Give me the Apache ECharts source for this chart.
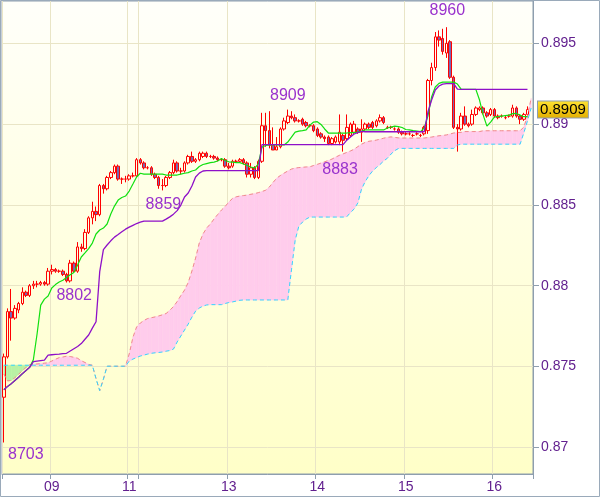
<!DOCTYPE html>
<html><head><meta charset="utf-8">
<script src="https://cdn.jsdelivr.net/npm/echarts@6/dist/echarts.min.js"></script>
<style>html,body{margin:0;padding:0;background:#fff}#c{width:600px;height:497px}</style>
</head><body><div id="c"></div>
<script>
// ---- categories (hourly candles) ----
const days = ['08','09','11','12','13','14','15','16'];
const dayHours = [13,21,3,24,24,24,24,11];
const dayFirstHour = [11,0,21,0,0,0,0,0];
const hiddenDayLabels = ['08','12'];
const yTicks = [0.87,0.875,0.88,0.885,0.89,0.895];

// ---- candles ----
const open = [
0.8731,0.8756,0.8784,0.8780,0.8785,0.8789,0.8796,0.8794,0.8800,0.8801,
0.8801,0.8802,0.8801,0.8809,0.8810,0.8809,0.8809,0.8807,0.8803,0.8814,
0.8809,0.8824,0.8823,0.8833,0.8842,0.8846,0.8844,0.8862,0.8860,0.8867,
0.8870,0.8874,0.8866,0.8866,0.8866,0.8868,0.8868,0.8878,0.8876,0.8873,
0.8873,0.8869,0.8867,0.8862,0.8862,0.8867,0.8870,0.8876,0.8871,0.8871,
0.8876,0.8880,0.8877,0.8878,0.8880,0.8882,0.8880,0.8880,0.8879,0.8878,
0.8878,0.8874,0.8874,0.8877,0.8877,0.8878,0.8876,0.8869,0.8873,0.8867,
0.8877,0.8899,0.8896,0.8887,0.8884,0.8886,0.8897,0.8901,0.8905,0.8904,
0.8902,0.8903,0.8901,0.8899,0.8899,0.8897,0.8894,0.8892,0.8892,0.8888,
0.8889,0.8889,0.8893,0.8891,0.8893,0.8895,0.8897,0.8895,0.8897,0.8900,
0.8901,0.8899,0.8902,0.8904,0.8898,0.8898,0.8897,0.8897,0.8895,0.8894,
0.8894,0.8893,0.8894,0.8893,0.8894,0.8896,0.8927,0.8935,0.8954,0.8953,
0.8944,0.8951,0.8929,0.8898,0.8897,0.8905,0.8900,0.8900,0.8906,0.8909,
0.8910,0.8907,0.8906,0.8909,0.8905,0.8905,0.8904,0.8905,0.8905,0.8910,
0.8905,0.8903,0.8906];
const close = [
0.8756,0.8784,0.8780,0.8786,0.8789,0.8796,0.8794,0.8800,0.8801,0.8801,
0.8802,0.8801,0.8809,0.8810,0.8809,0.8809,0.8807,0.8803,0.8814,0.8809,
0.8824,0.8823,0.8833,0.8842,0.8846,0.8844,0.8862,0.8860,0.8867,0.8870,
0.8874,0.8866,0.8866,0.8866,0.8868,0.8868,0.8878,0.8876,0.8873,0.8873,
0.8869,0.8867,0.8862,0.8862,0.8867,0.8870,0.8876,0.8871,0.8871,0.8876,
0.8880,0.8877,0.8878,0.8882,0.8882,0.8880,0.8880,0.8879,0.8878,0.8878,
0.8874,0.8873,0.8877,0.8877,0.8878,0.8876,0.8869,0.8873,0.8867,0.8877,
0.8899,0.8896,0.8887,0.8884,0.8886,0.8897,0.8902,0.8905,0.8904,0.8902,
0.8902,0.8900,0.8899,0.8899,0.8896,0.8893,0.8892,0.8891,0.8888,0.8891,
0.8892,0.8895,0.8890,0.8898,0.8900,0.8900,0.8895,0.8897,0.8900,0.8898,
0.8898,0.8902,0.8904,0.8901,0.8898,0.8898,0.8897,0.8895,0.8894,0.8894,
0.8894,0.8893,0.8894,0.8893,0.8898,0.8927,0.8935,0.8954,0.8952,0.8945,
0.8950,0.8929,0.8898,0.8897,0.8905,0.8900,0.8899,0.8906,0.8910,0.8910,
0.8907,0.8905,0.8909,0.8905,0.8904,0.8905,0.8904,0.8905,0.8910,0.8905,
0.8903,0.8906,0.8909];
const low = [
0.8703,0.8755,0.8766,0.8779,0.8783,0.8788,0.8793,0.8793,0.8798,0.8799,
0.8800,0.8800,0.8800,0.8807,0.8808,0.8808,0.8806,0.8802,0.8802,0.8808,
0.8808,0.8821,0.8822,0.8832,0.8838,0.8840,0.8843,0.8857,0.8859,0.8866,
0.8869,0.8865,0.8863,0.8864,0.8865,0.8867,0.8867,0.8875,0.8872,0.8872,
0.8868,0.8866,0.8860,0.8859,0.8861,0.8866,0.8869,0.8870,0.8869,0.8870,
0.8875,0.8876,0.8876,0.8877,0.8879,0.8879,0.8879,0.8878,0.8877,0.8877,
0.8873,0.8872,0.8873,0.8876,0.8876,0.8875,0.8867,0.8867,0.8866,0.8866,
0.8876,0.8886,0.8885,0.8884,0.8884,0.8885,0.8896,0.8900,0.8903,0.8901,
0.8901,0.8899,0.8898,0.8898,0.8895,0.8892,0.8891,0.8889,0.8887,0.8887,
0.8888,0.8887,0.8883,0.8890,0.8892,0.8894,0.8894,0.8889,0.8896,0.8897,
0.8897,0.8898,0.8901,0.8900,0.8897,0.8897,0.8896,0.8894,0.8893,0.8893,
0.8893,0.8892,0.8893,0.8892,0.8893,0.8894,0.8924,0.8933,0.8948,0.8943,
0.8941,0.8928,0.8897,0.8883,0.8896,0.8899,0.8898,0.8899,0.8905,0.8908,
0.8906,0.8904,0.8905,0.8904,0.8903,0.8904,0.8903,0.8904,0.8904,0.8904,
0.8900,0.8902,0.8905];
const high = [
0.8758,0.8786,0.8798,0.8788,0.8790,0.8799,0.8797,0.8801,0.8803,0.8803,
0.8803,0.8803,0.8811,0.8813,0.8811,0.8810,0.8810,0.8808,0.8816,0.8815,
0.8827,0.8826,0.8835,0.8843,0.8852,0.8849,0.8863,0.8863,0.8868,0.8871,
0.8875,0.8875,0.8867,0.8868,0.8869,0.8870,0.8879,0.8879,0.8877,0.8874,
0.8874,0.8870,0.8868,0.8866,0.8868,0.8871,0.8878,0.8877,0.8873,0.8877,
0.8881,0.8883,0.8879,0.8883,0.8883,0.8883,0.8881,0.8881,0.8880,0.8879,
0.8879,0.8876,0.8878,0.8878,0.8879,0.8879,0.8877,0.8876,0.8874,0.8878,
0.8907,0.8907,0.8908,0.8898,0.8892,0.8898,0.8904,0.8909,0.8908,0.8906,
0.8903,0.8904,0.8902,0.8900,0.8900,0.8898,0.8895,0.8893,0.8893,0.8892,
0.8893,0.8906,0.8894,0.8906,0.8901,0.8902,0.8898,0.8903,0.8901,0.8901,
0.8902,0.8903,0.8906,0.8905,0.8899,0.8899,0.8898,0.8898,0.8896,0.8895,
0.8895,0.8894,0.8895,0.8894,0.8899,0.8928,0.8938,0.8957,0.8958,0.8959,
0.8960,0.8952,0.8930,0.8900,0.8907,0.8911,0.8901,0.8909,0.8911,0.8911,
0.8911,0.8908,0.8910,0.8910,0.8906,0.8906,0.8905,0.8906,0.8912,0.8911,
0.8906,0.8907,0.8911];

// ---- Ichimoku lines ----
const tenkan = [
0.87356,0.87377,0.87394,0.87414,0.87434,0.87455,0.87475,0.87495,0.87542,0.87700,
0.87880,0.87917,0.87936,0.87986,0.88007,0.88023,0.88034,0.88051,0.88068,0.88082,
0.88128,0.88178,0.88203,0.88230,0.88264,0.88320,0.88345,0.88357,0.88382,0.88444,
0.88493,0.88530,0.88546,0.88555,0.88586,0.88629,0.88673,0.88696,0.88691,0.88691,
0.88691,0.88691,0.88691,0.88691,0.88685,0.88685,0.88685,0.88685,0.88691,0.88696,
0.88700,0.88710,0.88716,0.88738,0.88750,0.88756,0.88762,0.88765,0.88772,0.88787,
0.88775,0.88767,0.88765,0.88762,0.88762,0.88753,0.88744,0.88735,0.88728,0.88753,
0.88858,0.88868,0.88871,0.88871,0.88871,0.88871,0.88871,0.88889,0.88920,0.88951,
0.88957,0.88960,0.88964,0.88994,0.89013,0.89015,0.88998,0.88970,0.88945,0.88945,
0.88945,0.88945,0.88945,0.88945,0.88948,0.88948,0.88951,0.88957,0.88964,0.88964,
0.88964,0.88964,0.88964,0.88964,0.88976,0.88982,0.88988,0.88985,0.88979,0.88967,
0.88964,0.88960,0.88957,0.88954,0.88976,0.89050,0.89168,0.89230,0.89252,0.89260,
0.89260,0.89260,0.89260,0.89248,0.89217,0.89215,0.89215,0.89215,0.89215,0.89149,
0.89056,0.88988,0.89013,0.89044,0.89047,0.89050,0.89053,0.89056,0.89065,0.89066,
0.89056,0.89046,0.89046,null];
const kijun = [
0.87356,0.87377,0.87394,0.87414,0.87434,0.87455,0.87475,0.87495,0.87530,0.87534,
0.87537,0.87540,0.87570,0.87573,0.87575,0.87577,0.87580,0.87582,0.87596,0.87610,
0.87624,0.87642,0.87669,0.87695,0.87738,0.87777,0.88087,0.88224,0.88252,0.88278,
0.88301,0.88317,0.88334,0.88350,0.88363,0.88374,0.88385,0.88393,0.88400,0.88400,
0.88400,0.88400,0.88400,0.88400,0.88412,0.88426,0.88443,0.88465,0.88499,0.88549,
0.88574,0.88617,0.88673,0.88697,0.88710,0.88712,0.88712,0.88712,0.88712,0.88712,
0.88712,0.88712,0.88712,0.88712,0.88712,0.88712,0.88712,0.88712,0.88712,0.88712,
0.88873,0.88873,0.88873,0.88873,0.88873,0.88873,0.88873,0.88873,0.88873,0.88873,
0.88873,0.88873,0.88873,0.88873,0.88873,0.88873,0.88873,0.88873,0.88873,0.88873,
0.88873,0.88873,0.88873,0.88901,0.88920,0.88939,0.88948,0.88955,0.88953,0.88953,
0.88953,0.88953,0.88953,0.88953,0.88953,0.88953,0.88953,0.88953,0.88953,0.88953,
0.88953,0.88953,0.88953,0.88953,0.88953,0.89075,0.89149,0.89211,0.89236,0.89248,
0.89251,0.89251,0.89251,0.89217,0.89215,0.89215,0.89215,0.89215,0.89215,0.89215,
0.89215,0.89215,0.89215,0.89215,0.89215,0.89215,0.89215,0.89215,0.89215,0.89215,
0.89215,0.89215,0.89215,null];
const senkouA = [
0.87454,0.87411,0.87414,0.87431,0.87452,0.87475,0.87494,0.87511,0.87514,0.87516,
0.87518,0.87521,0.87523,0.87534,0.87545,0.87555,0.87559,0.87564,0.87562,0.87557,
0.87551,0.87536,0.87525,0.87513,0.87508,0.87425,0.87351,0.87422,0.87502,0.87502,
0.87502,0.87502,0.87502,0.87502,0.87578,0.87680,0.87745,0.87769,0.87785,0.87797,
0.87802,0.87807,0.87813,0.87820,0.87828,0.87848,0.87871,0.87902,0.87939,0.87973,
0.88020,0.88091,0.88171,0.88264,0.88320,0.88357,0.88382,0.88413,0.88441,0.88468,
0.88490,0.88518,0.88540,0.88550,0.88555,0.88558,0.88561,0.88566,0.88570,0.88576,
0.88583,0.88591,0.88611,0.88639,0.88666,0.88682,0.88697,0.88710,0.88722,0.88728,
0.88731,0.88733,0.88735,0.88736,0.88744,0.88751,0.88759,0.88767,0.88775,0.88784,
0.88796,0.88807,0.88816,0.88825,0.88834,0.88845,0.88861,0.88876,0.88887,0.88894,
0.88897,0.88901,0.88907,0.88913,0.88918,0.88921,0.88918,0.88915,0.88914,0.88914,
0.88914,0.88914,0.88914,0.88914,0.88914,0.88917,0.88920,0.88924,0.88928,0.88930,
0.88933,0.88939,0.88945,0.88948,0.88949,0.88954,0.88954,0.88954,0.88954,0.88954,
0.88959,0.88959,0.88959,0.88959,0.88959,0.88959,0.88959,0.88959,0.88959,0.88959,
0.88959,0.88982,0.89050,0.89160];
const senkouB = [
0.87508,0.87508,0.87508,0.87508,0.87508,0.87508,0.87508,0.87508,0.87508,0.87508,
0.87508,0.87508,0.87508,0.87508,0.87508,0.87508,0.87508,0.87508,0.87508,0.87508,
0.87508,0.87508,0.87508,0.87508,0.87508,0.87425,0.87351,0.87422,0.87502,0.87502,
0.87502,0.87502,0.87502,0.87502,0.87534,0.87546,0.87556,0.87565,0.87571,0.87577,
0.87582,0.87585,0.87587,0.87590,0.87595,0.87599,0.87608,0.87652,0.87689,0.87726,
0.87763,0.87806,0.87843,0.87862,0.87874,0.87881,0.87883,0.87883,0.87883,0.87883,
0.87890,0.87896,0.87900,0.87905,0.87910,0.87912,0.87912,0.87912,0.87912,0.87912,
0.87912,0.87912,0.87912,0.87912,0.87912,0.87912,0.87912,0.87912,0.88098,0.88282,
0.88369,0.88394,0.88413,0.88425,0.88425,0.88425,0.88425,0.88425,0.88425,0.88425,
0.88425,0.88425,0.88425,0.88427,0.88453,0.88475,0.88512,0.88598,0.88645,0.88681,
0.88710,0.88731,0.88750,0.88772,0.88789,0.88815,0.88836,0.88849,0.88850,0.88850,
0.88850,0.88850,0.88850,0.88850,0.88850,0.88850,0.88850,0.88850,0.88850,0.88850,
0.88850,0.88850,0.88850,0.88871,0.88876,0.88876,0.88876,0.88876,0.88876,0.88876,
0.88876,0.88876,0.88876,0.88876,0.88876,0.88876,0.88876,0.88876,0.88876,0.88876,
0.88876,0.88945,0.89020,0.89100];

// ---- annotations (extreme prices) ----
const annIndex = [0, 18, 43, 77, 92, 120];
const annValue = [0.8703, 0.8802, 0.8859, 0.8909, 0.8883, 0.8960];
const annOffset = [[22,12],[4,13],[1,14],[0,-14],[-3,18],[1,-17]];

// ---- build categories ----
const categories = [];
const dayStart = new Set();
const labelStart = new Set();
days.forEach((d, j) => {
  for (let h = 0; h < dayHours[j]; h++) {
    if (h === 0) { dayStart.add(categories.length); if (hiddenDayLabels.indexOf(d) < 0) labelStart.add(categories.length); }
    const hr = dayFirstHour[j] + h;
    categories.push(d + ' ' + (hr < 10 ? '0' + hr : hr) + ':00');
  }
});
const N = categories.length;
const candleData = open.map((o, i) => [o, close[i], low[i], high[i]]);
const lastClose = close[close.length - 1];

const PINK = '#FFCCEC', GREEN = '#B8F2A4';
const AXIS = '#8E9EAE', LABEL = '#62208F', GRIDC = '#E9E5C6';

const option = {
  animation: false,
  backgroundColor: '#ffffff',
  textStyle: { fontFamily: 'Liberation Sans, Arial, sans-serif' },
  graphic: [{ type: 'rect', silent: true, z: 100,
    shape: { x: 0.5, y: 0.5, width: 599, height: 496 },
    style: { fill: 'none', stroke: '#9AAABA', lineWidth: 1 } }],
  grid: {
    left: 2, top: 1, right: 67, bottom: 23, show: true,
    outerBoundsMode: 'none', containLabel: false,
    borderColor: AXIS, borderWidth: 1,
    backgroundColor: { type: 'linear', x: 0, y: 0, x2: 0, y2: 1,
      colorStops: [{ offset: 0, color: '#FFFFFA' }, { offset: 1, color: '#FFFFC8' }] }
  },
  xAxis: {
    type: 'category', data: categories, boundaryGap: true,
    axisLine: { show: true, lineStyle: { color: AXIS } },
    axisTick: { show: true, length: 5, interval: (i) => dayStart.has(i), lineStyle: { color: AXIS } },
    splitLine: { show: true, interval: (i) => dayStart.has(i), lineStyle: { color: GRIDC } },
    axisLabel: { interval: (i) => labelStart.has(i), formatter: (v) => v.slice(0, 2),
      color: LABEL, fontSize: 14, margin: 6 }
  },
  yAxis: {
    type: 'value', position: 'right', min: 0.86835, max: 0.89762, scale: true,
    axisLine: { show: true, lineStyle: { color: AXIS } },
    axisTick: { show: true, length: 6, customValues: yTicks, lineStyle: { color: AXIS } },
    splitLine: { show: true, lineStyle: { color: GRIDC } },
    axisLabel: { customValues: yTicks, formatter: (v) => String(+v.toFixed(3)),
      color: LABEL, fontSize: 14, margin: 8 }
  },
  series: [
    {
      type: 'custom', name: 'cloud', clip: true, silent: true,
      data: senkouA.map((a, i) => [i, a, senkouB[i]]),
      encode: { x: 0, y: [1, 2] },
      renderItem: function (params, api) {
        const i = api.value(0);
        if (i >= N - 1) return null;
        const a0 = senkouA[i], a1 = senkouA[i + 1], b0 = senkouB[i], b1 = senkouB[i + 1];
        const pa0 = api.coord([i, a0]), pa1 = api.coord([i + 1, a1]);
        const pb0 = api.coord([i, b0]), pb1 = api.coord([i + 1, b1]);
        const d0 = a0 - b0, d1 = a1 - b1;
        const col = (d) => d >= 0 ? PINK : GREEN;
        const poly = (pts, c) => ({ type: 'polygon', shape: { points: pts }, style: { fill: c, stroke: c, lineWidth: 0.6 } });
        if (d0 * d1 >= 0) {
          const d = Math.abs(d0) >= Math.abs(d1) ? d0 : d1;
          if (d === 0) return null;
          return poly([pa0, pa1, pb1, pb0], col(d));
        }
        const t = d0 / (d0 - d1);
        const m = [pa0[0] + (pa1[0] - pa0[0]) * t, pa0[1] + (pa1[1] - pa0[1]) * t];
        return { type: 'group', children: [poly([pa0, m, pb0], col(d0)), poly([m, pa1, pb1], col(d1))] };
      }
    },
    { type: 'line', name: 'Senkou A', data: senkouA, symbol: 'none', silent: true,
      lineStyle: { color: '#F08A8A', width: 1, type: [4, 3] } },
    { type: 'line', name: 'Senkou B', data: senkouB, symbol: 'none', silent: true,
      lineStyle: { color: '#33D6FF', width: 1, type: [4, 3] } },
    { type: 'line', name: 'Tenkan', data: tenkan, symbol: 'none', silent: true,
      lineStyle: { color: '#10E010', width: 1.2 } },
    { type: 'line', name: 'Kijun', data: kijun, symbol: 'none', silent: true,
      lineStyle: { color: '#8E10C8', width: 1.3 } },
    {
      type: 'candlestick', name: 'EURGBP', data: candleData, barWidth: 3, clip: false,
      itemStyle: { color: 'rgba(255,255,255,0)', color0: '#7A68B0',
        borderColor: '#FF0000', borderColor0: '#FF0000', borderWidth: 1 },
      markPoint: {
        symbol: 'circle', symbolSize: 1, silent: true,
        itemStyle: { color: 'rgba(0,0,0,0)' },
        label: { show: true, position: 'inside', color: '#9A32CD', fontSize: 16,
          formatter: (p) => String(Math.round(p.value * 10000)) },
        data: annIndex.map((k, j) => ({ coord: [k, annValue[j]], value: annValue[j],
          label: { offset: annOffset[j] } }))
      }
    },
    {
      type: 'line', name: 'last price', data: [], silent: true, clip: false,
      markLine: {
        silent: true, symbol: ['none', 'none'], animation: false, precision: 4,
        lineStyle: { color: 'rgba(0,0,0,0)', width: 1, type: 'solid' },
        label: { show: true, position: 'end', distance: 5, opacity: 1,
          formatter: (p) => Number(p.value).toFixed(4), color: '#000', fontSize: 15,
          padding: [1, 2, 0, 2], borderColor: '#8E9EAE', borderWidth: 1,
          backgroundColor: { type: 'linear', x: 0, y: 0, x2: 0, y2: 1,
            colorStops: [{ offset: 0, color: '#FFE433' }, { offset: 1, color: '#E2AE00' }] } },
        data: [{ yAxis: lastClose }]
      }
    }
  ]
};
const chart = echarts.init(document.getElementById('c'));
chart.setOption(option);
</script></body></html>
